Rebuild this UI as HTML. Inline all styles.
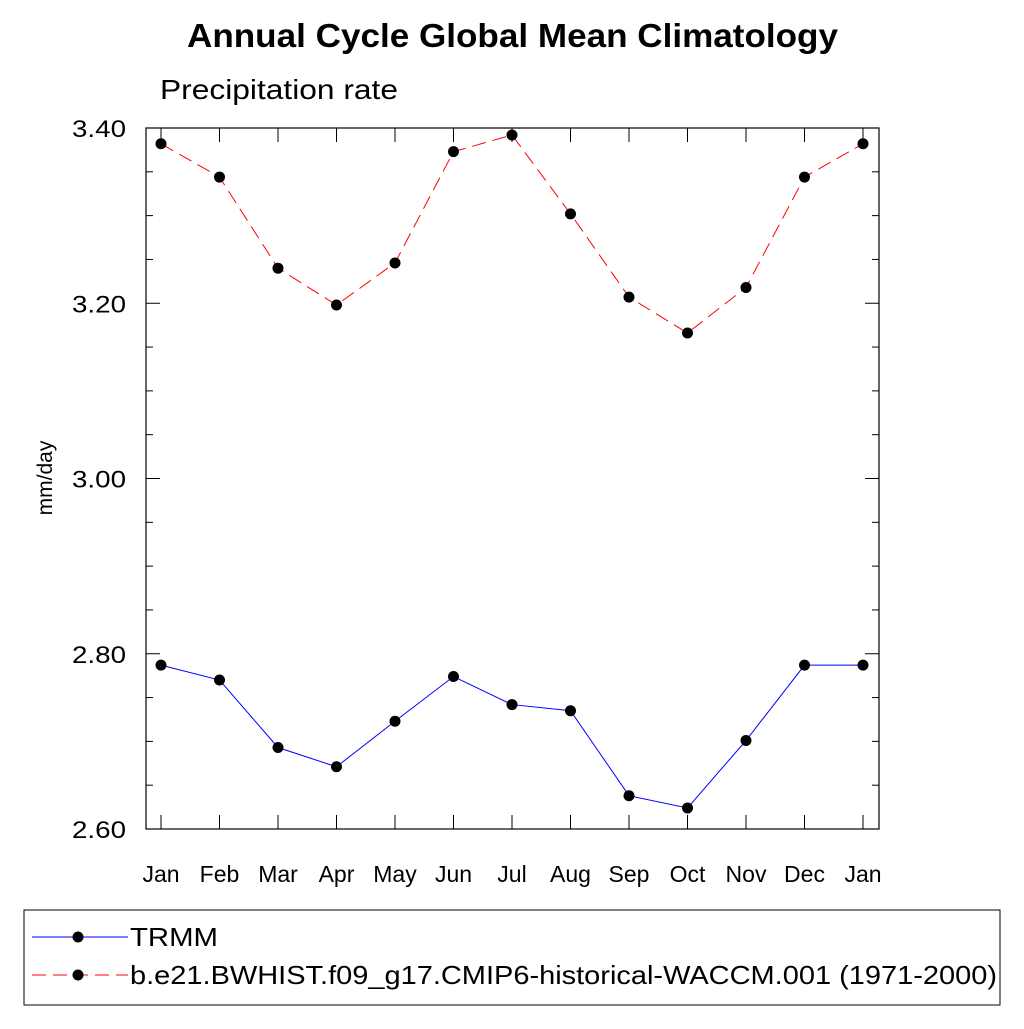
<!DOCTYPE html>
<html><head><meta charset="utf-8"><style>
body{margin:0;background:#fff}
svg text{font-family:"Liberation Sans",sans-serif}
</style></head><body>
<svg width="1024" height="1024" xmlns="http://www.w3.org/2000/svg">
<text x="187" y="47" textLength="651" lengthAdjust="spacingAndGlyphs" font-size="33" font-weight="bold">Annual Cycle Global Mean Climatology</text>
<text x="160" y="99" textLength="238" lengthAdjust="spacingAndGlyphs" font-size="28">Precipitation rate</text>
<text transform="translate(52,478) rotate(-90)" text-anchor="middle" font-size="21">mm/day</text>
<rect x="146" y="128" width="733" height="701" fill="none" stroke="#000" stroke-width="1.2"/>
<g id="axes"></g>
<g id="series"></g>
<rect x="24" y="910" width="976" height="95" fill="none" stroke="#000" stroke-width="1"/>
<g>
<line x1="32" y1="937" x2="128" y2="937" stroke="#00f" stroke-width="1"/>
<circle cx="78" cy="937" r="5.5" fill="#000"/>
<text x="130" y="946" textLength="88" lengthAdjust="spacingAndGlyphs" font-size="26">TRMM</text>
</g>
<g>
<line x1="32" y1="975" x2="128" y2="975" stroke="#f00" stroke-width="1" stroke-dasharray="14,7"/>
<circle cx="78" cy="975" r="5.5" fill="#000"/>
<text x="130" y="984" textLength="867" lengthAdjust="spacingAndGlyphs" font-size="26">b.e21.BWHIST.f09_g17.CMIP6-historical-WACCM.001 (1971-2000)</text>
</g>
</svg>
<script>
const months=["Jan","Feb","Mar","Apr","May","Jun","Jul","Aug","Sep","Oct","Nov","Dec","Jan"];
const trmm=[2.787,2.770,2.693,2.671,2.723,2.774,2.742,2.735,2.638,2.624,2.701,2.787,2.787];
const waccm=[3.382,3.344,3.240,3.198,3.246,3.373,3.392,3.302,3.207,3.166,3.218,3.344,3.382];
const yTicks=["2.60","2.80","3.00","3.20","3.40"];
const NS="http://www.w3.org/2000/svg";
const X=i=>161+i*(863-161)/12;
const Y=v=>829-(v-2.6)/0.8*701;
function mk(t,a,p){const e=document.createElementNS(NS,t);for(const k in a)e.setAttribute(k,a[k]);p.appendChild(e);return e;}
const ax=document.getElementById('axes');
for(let v=2.6;v<=3.4001;v+=0.05){
 const y=Y(v);const major=Math.abs((v-2.6)/0.2-Math.round((v-2.6)/0.2))<1e-6;const L=major?14:7;
 const t1=mk('line',{x1:146,y1:y,x2:146+L,y2:y,stroke:'#000'},ax);
 
 
 const t2=mk('line',{x1:879,y1:y,x2:879-L,y2:y,stroke:'#000'},ax);
 
 
}
yTicks.forEach(s=>{const t=mk('text',{x:126,y:Y(+s)+9,'text-anchor':'end','font-size':24,textLength:54,lengthAdjust:'spacingAndGlyphs'},ax);t.textContent=s;
 
 });
months.forEach((m,i)=>{const x=X(i);
 const a=mk('line',{x1:x,y1:829,x2:x,y2:815,stroke:'#000'},ax);
 
 
 const b=mk('line',{x1:x,y1:128,x2:x,y2:142,stroke:'#000'},ax);
 
 
 const t=mk('text',{x:x,y:882,'text-anchor':'middle','font-size':23},ax);t.textContent=m;
 
 });
const sg=document.getElementById('series');
function draw(vals,color,dash,name){
 const pl=mk('polyline',{points:vals.map((v,i)=>X(i)+','+Y(v)).join(' '),fill:'none',stroke:color,'stroke-width':1,'stroke-dasharray':dash},sg);
 
 
 vals.forEach((v,i)=>{const c=mk('circle',{cx:X(i),cy:Y(v),r:5.5,fill:'#000'},sg);
  
  });
}
draw(trmm,'#00f','none','trmm');
draw(waccm,'#f00','14,7','waccm');
</script>
</body></html>
